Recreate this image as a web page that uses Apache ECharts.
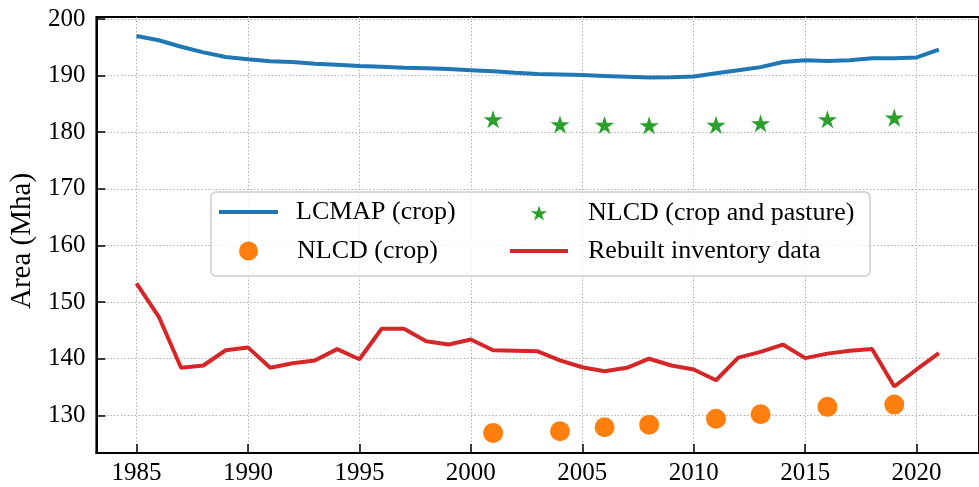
<!DOCTYPE html>
<html>
<head>
<meta charset="utf-8">
<script src="https://cdn.jsdelivr.net/npm/echarts@6/dist/echarts.min.js"></script>
<style>
  html, body { margin: 0; padding: 0; background: #fff; }
  #chart { width: 979px; height: 487px; }
</style>
</head>
<body>
<div id="chart"></div>
<script>
// Annual series, 1985-2021
const years = [1985, 1986, 1987, 1988, 1989, 1990, 1991, 1992, 1993, 1994,
  1995, 1996, 1997, 1998, 1999, 2000, 2001, 2002, 2003, 2004,
  2005, 2006, 2007, 2008, 2009, 2010, 2011, 2012, 2013, 2014,
  2015, 2016, 2017, 2018, 2019, 2020, 2021];
const lcmapCrop = [197.0, 196.25, 195.1, 194.1, 193.3, 192.9, 192.55, 192.4, 192.1, 191.9,
  191.7, 191.55, 191.4, 191.3, 191.15, 190.95, 190.75, 190.5, 190.3, 190.2,
  190.1, 189.95, 189.8, 189.65, 189.7, 189.85, 190.4, 190.95, 191.5, 192.4,
  192.7, 192.6, 192.7, 193.05, 193.05, 193.2, 194.6];
const rebuiltInventory = [153.3, 147.4, 138.4, 138.8, 141.5, 142.0, 138.4, 139.2, 139.7, 141.7,
  139.9, 145.3, 145.3, 143.1, 142.5, 143.4, 141.5, 141.4, 141.3, 139.7,
  138.5, 137.8, 138.4, 140.0, 138.8, 138.1, 136.2, 140.2, 141.2, 142.5,
  140.1, 140.9, 141.4, 141.7, 135.1, 138.1, 141.0];

// NLCD release years
const nlcdYears = [2001, 2004, 2006, 2008, 2011, 2013, 2016, 2019];
const nlcdCrop = [126.9, 127.2, 127.9, 128.35, 129.4, 130.2, 131.5, 131.9];
const nlcdCropPasture = [182.1, 181.2, 181.1, 181.05, 181.1, 181.4, 182.1, 182.4];

// Axis ticks
const xTicks = [1985, 1990, 1995, 2000, 2005, 2010, 2015, 2020];
const yTicks = [130, 140, 150, 160, 170, 180, 190, 200];

const names = {
  lcmap: 'LCMAP (crop)',
  nlcdCp: 'NLCD (crop and pasture)',
  nlcdC: 'NLCD (crop)',
  rebuilt: 'Rebuilt inventory data'
};

const FONT = '"Liberation Serif", "Times New Roman", serif';
const LINE_W = 4;

// Five-pointed star symbol (outer radius 1, inner radius 0.382)
function starPath() {
  const pts = [];
  for (let i = 0; i < 10; i++) {
    const r = i % 2 === 0 ? 1 : 0.381966;
    const a = -Math.PI / 2 + i * Math.PI / 5;
    pts.push((r * Math.cos(a)).toFixed(4) + ' ' + (r * Math.sin(a)).toFixed(4));
  }
  return 'path://M' + pts.join(' L') + ' Z';
}
const STAR = starPath();

const pair = (xs, ys) => xs.map((x, i) => [x, ys[i]]);

const gridLine = { show: true, lineStyle: { color: '#b0b0b0', width: 1, type: [1.5, 2] } };

// One legend entry: icon box at (left, top), label pushed right by `gap`
function legendItem(name, icon, left, top, itemWidth, itemHeight, gap) {
  return {
    data: [{ name: name, icon: icon }],
    left: left, top: top,
    padding: 0,
    itemWidth: itemWidth, itemHeight: itemHeight,
    selectedMode: false,
    textStyle: { fontFamily: FONT, fontSize: 26, color: '#000', lineHeight: 30, padding: [0, 0, 0, gap] },
    z: 5
  };
}

const chart = echarts.init(document.getElementById('chart'), null, { renderer: 'canvas' });
chart.setOption({
  animation: false,
  backgroundColor: '#fff',
  grid: {
    left: 95, right: -9, top: 17, bottom: 34,
    show: true, borderColor: '#000', borderWidth: 2, backgroundColor: 'transparent'
  },
  xAxis: {
    type: 'value', min: 1983.2, max: 2022.8,
    axisLine: { show: true, lineStyle: { color: '#000', width: 2 } },
    axisTick: { show: true, inside: true, length: 9, lineStyle: { color: '#000', width: 1.5 }, customValues: xTicks },
    axisLabel: { fontFamily: FONT, fontSize: 25, color: '#000', margin: 8, customValues: xTicks,
      formatter: v => String(v) },
    splitLine: gridLine
  },
  yAxis: {
    type: 'value', min: 123.35, max: 200.35,
    name: 'Area (Mha)', nameLocation: 'middle', nameGap: 58,
    nameTextStyle: { fontFamily: FONT, fontSize: 29, color: '#000', padding: [0, 12, 0, 0] },
    axisLine: { show: true, lineStyle: { color: '#000', width: 2 } },
    axisTick: { show: true, inside: true, length: 9, lineStyle: { color: '#000', width: 1.5 }, customValues: yTicks },
    axisLabel: { fontFamily: FONT, fontSize: 25, color: '#000', margin: 11, customValues: yTicks,
      formatter: v => String(v) },
    splitLine: gridLine
  },
  graphic: [{
    type: 'rect', z: 3,
    shape: { x: 211, y: 192, width: 659, height: 84, r: 5 },
    style: { fill: 'rgba(255,255,255,0.8)', stroke: '#cccccc', lineWidth: 1.5 }
  }],
  legend: [
    legendItem(names.lcmap, 'rect', 219, 197, 59, LINE_W, 13),
    legendItem(names.nlcdC, 'circle', 239, 236, 19, 19, 34),
    legendItem(names.nlcdCp, STAR, 531, 198, 16, 16, 36),
    legendItem(names.rebuilt, 'rect', 510, 236, 58, LINE_W, 15)
  ],
  series: [
    {
      name: names.lcmap, type: 'line', data: pair(years, lcmapCrop),
      symbol: 'none', lineStyle: { color: '#1f77b4', width: LINE_W }, itemStyle: { color: '#1f77b4' }, z: 2
    },
    {
      name: names.nlcdCp, type: 'scatter', data: pair(nlcdYears, nlcdCropPasture),
      symbol: STAR, symbolSize: 19, symbolKeepAspect: true, symbolOffset: [0, -1],
      itemStyle: { color: '#2ca02c', opacity: 1 }, z: 3
    },
    {
      name: names.nlcdC, type: 'scatter', data: pair(nlcdYears, nlcdCrop),
      symbol: 'circle', symbolSize: 20,
      itemStyle: { color: '#ff7f0e', opacity: 1 }, z: 3
    },
    {
      name: names.rebuilt, type: 'line', data: pair(years, rebuiltInventory),
      symbol: 'none', lineStyle: { color: '#d62728', width: LINE_W }, itemStyle: { color: '#d62728' }, z: 2
    }
  ]
});
</script>
</body>
</html>
